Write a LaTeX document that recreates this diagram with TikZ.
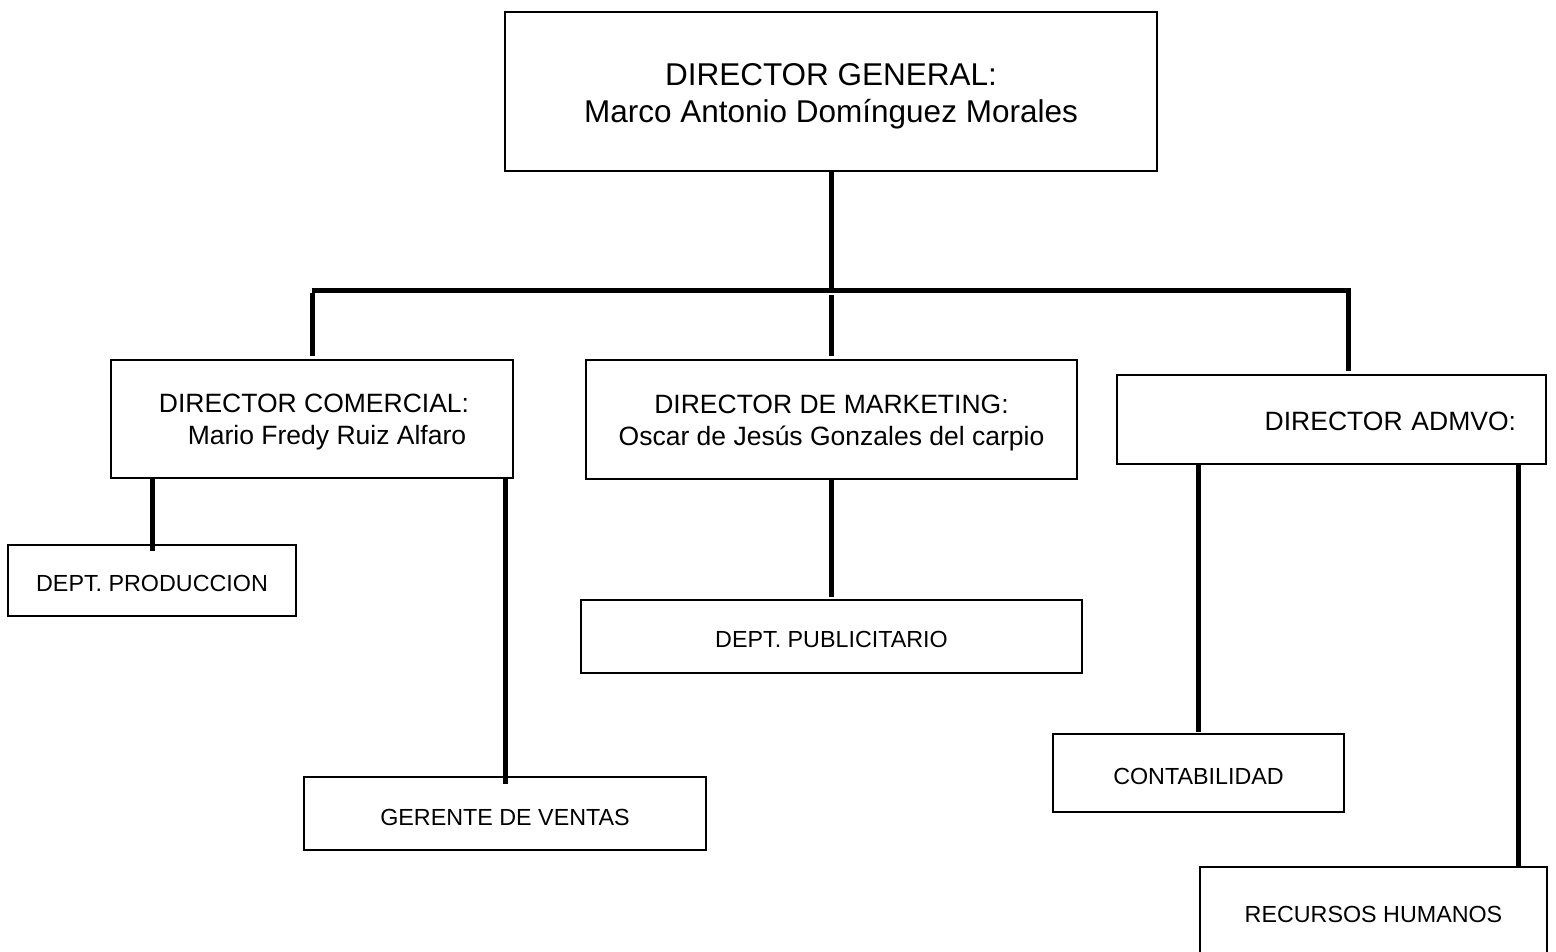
\documentclass[tikz,border=0pt]{standalone}
\usepackage{fontspec}
\setmainfont{Liberation Sans}
\usetikzlibrary{calc}
\newcommand\liftto[1]{\rule{0pt}{#1}}
\begin{document}
\begin{tikzpicture}[x=1pt,y=-1pt,
  box/.style={draw=black, line width=2pt, inner sep=0pt, align=center, text=black},
  big/.style={font=\fontsize{31.5}{37}\selectfont},
  mid/.style={font=\fontsize{26.5}{32}\selectfont},
  sml/.style={font=\fontsize{23.3}{28}\selectfont},
  conn/.style={draw=black, line width=5pt}]
\useasboundingbox (0,0) rectangle (1556,951);
\clip (0,0) rectangle (1556,951);
\fill[white] (0,0) rectangle (1556,951);

\node[box,big,minimum width=652pt,minimum height=159pt] (gen) at (831,91.5) {\liftto{31.6pt}DIRECTOR GENERAL:\\Marco Antonio Domínguez Morales};
\node[box,mid,minimum width=402pt,minimum height=118pt] (com) at (312,419) {\liftto{25pt}\hspace*{4pt}DIRECTOR COMERCIAL:\\\hspace*{30pt}Mario Fredy Ruiz Alfaro};
\node[box,mid,minimum width=491pt,minimum height=119pt] (mkt) at (831.5,419.5) {\liftto{25pt}DIRECTOR DE MARKETING:\\Oscar de Jesús Gonzales del carpio};
\node[box,mid,minimum width=429pt,minimum height=89pt,text width=369pt,align=right] (adm) at (1331.5,419.5) {\liftto{23pt}DIRECTOR ADMVO:};
\node[box,sml,minimum width=288pt,minimum height=71pt] (prod) at (152,580.5) {\liftto{22.75pt}DEPT. PRODUCCION};
\node[box,sml,minimum width=501pt,minimum height=73pt] (pub) at (831.5,636.5) {\liftto{22.75pt}DEPT. PUBLICITARIO};
\node[box,sml,minimum width=402pt,minimum height=73pt] (ger) at (505,813.5) {\liftto{23.75pt}GERENTE DE VENTAS};
\node[box,sml,minimum width=291pt,minimum height=78pt] (cont) at (1198.5,773) {\liftto{22.75pt}CONTABILIDAD};
\node[box,sml,minimum width=347pt,minimum height=92pt] (rh) at (1373.5,913) {\liftto{18.75pt}RECURSOS HUMANOS};

\coordinate (barL) at (312,290);
\coordinate (barR) at (1348,290);
\coordinate (barM) at (mkt.north |- barL);
\coordinate (admTop) at (barR |- adm.north);
\coordinate (rhx) at ([xshift=-29pt]adm.south east);

\draw[conn] (gen.south) -- (gen.south |- barL);
\draw[conn] (barL) -- ([xshift=2.5pt]barR);
\draw[conn] ([yshift=-3pt]barL) -- ([yshift=3pt]com.north);
\draw[conn] ([yshift=-5pt]barM) -- ([yshift=3pt]mkt.north);
\draw[conn] (barR) -- ([yshift=3pt]admTop);

\draw[conn] (prod.north |- com.south) -- ([yshift=-7pt]prod.north);
\draw[conn] (ger.north |- com.south) -- ([yshift=-8pt]ger.north);
\draw[conn] (mkt.south) -- ([yshift=2pt]pub.north);
\draw[conn] (cont.north |- adm.south) -- ([yshift=1pt]cont.north);
\draw[conn] (rhx) -- (rhx |- rh.north);
\end{tikzpicture}
\end{document}
